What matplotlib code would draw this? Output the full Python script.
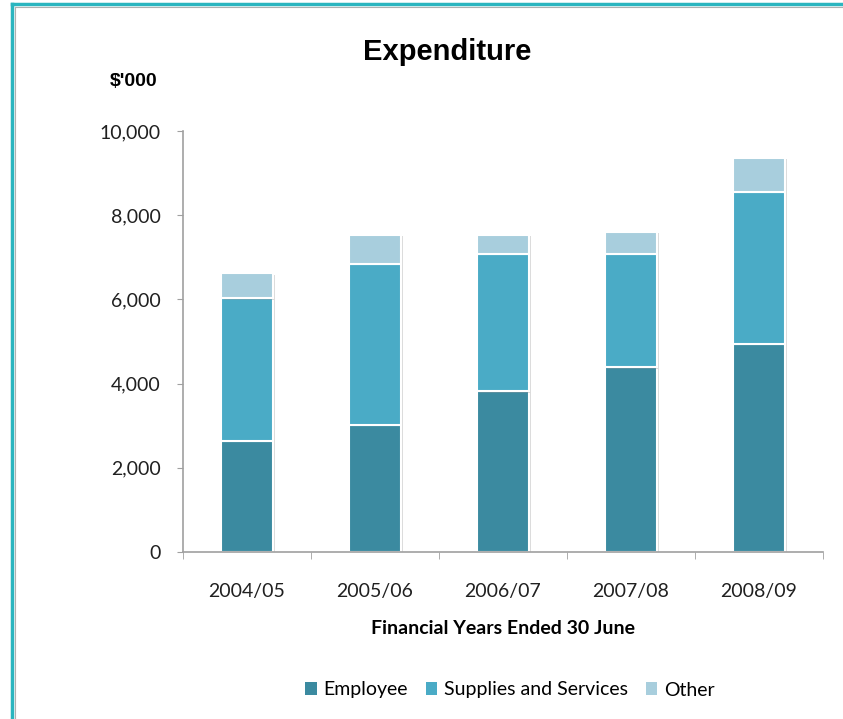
import matplotlib.pyplot as plt
import matplotlib.patheffects as pe
from matplotlib.lines import Line2D
from matplotlib.patches import Patch
from matplotlib.ticker import FuncFormatter

years = ["2004/05", "2005/06", "2006/07", "2007/08", "2008/09"]
employee = [2640, 3020, 3820, 4390, 4940]
supplies = [3390, 3820, 3260, 2690, 3610]
other = [590, 690, 450, 520, 810]

colors = {"Employee": "#3b8aa0", "Supplies and Services": "#4aabc6", "Other": "#a8cedd"}

fig = plt.figure(figsize=(8.43, 7.19), dpi=100)
ax = fig.add_axes([183 / 843, 1 - 552 / 719, 640 / 843, 421 / 719])

shadow = [pe.SimplePatchShadow(offset=(2, -1), shadow_rgbFace="#888888", alpha=0.3), pe.Normal()]
x = list(range(len(years)))
bottom = [0] * len(years)
for name, vals in [("Employee", employee), ("Supplies and Services", supplies), ("Other", other)]:
    bars = ax.bar(x, vals, width=0.4, bottom=bottom, color=colors[name],
                  edgecolor="white", linewidth=1.5)
    for b in bars:
        b.set_path_effects(shadow)
    bottom = [b0 + v for b0, v in zip(bottom, vals)]

ax.set_xlim(-0.5, len(years) - 0.5)
ax.set_ylim(0, 10000)
ax.set_yticks(range(0, 10001, 2000))
ax.yaxis.set_major_formatter(FuncFormatter(lambda v, p: f"{int(v):,}"))
ax.set_xticks(x)
ax.set_xticklabels(years)
ax.set_xticks([i - 0.5 for i in range(len(years) + 1)], minor=True)
ax.tick_params(axis="x", which="major", length=0, pad=22)
ax.tick_params(axis="x", which="minor", length=5, color="#a0a0a0")
ax.tick_params(axis="y", length=4, color="#a0a0a0", pad=12)
for lab in ax.get_xticklabels() + ax.get_yticklabels():
    lab.set_family("Lato")
    lab.set_fontsize(14)
    lab.set_color("#202020")

for s in ["top", "right"]:
    ax.spines[s].set_visible(False)
for s in ["left", "bottom"]:
    ax.spines[s].set_color("#a0a0a0")
    ax.spines[s].set_linewidth(1.2)

ax.set_xlabel("Financial Years Ended 30 June", family="Lato", fontweight="bold",
              fontsize=14, labelpad=15)

fig.text(0.531, 1 - 52 / 719, "Expenditure", family="Liberation Sans", fontweight="bold",
         fontsize=21, ha="center", va="center")
fig.text(110 / 843, 1 - 82 / 719, "$'000", family="Liberation Sans", fontweight="bold",
         fontsize=14, ha="left", va="center")

handles = [Patch(facecolor=c, edgecolor="none", label=n) for n, c in colors.items()]
fig.legend(handles=handles, loc="center", bbox_to_anchor=(510 / 843, 1 - 690 / 719), ncol=3,
           frameon=False, handlelength=0.6, handleheight=0.6, handletextpad=0.35,
           columnspacing=0.9, prop={"family": "Lato", "size": 14})

# frame lines along top and left edge
fig.add_artist(Line2D([12 / 843, 1], [1 - 4 / 719] * 2, color="#2bb5bf", lw=2.5))
fig.add_artist(Line2D([15 / 843, 1], [1 - 7 / 719] * 2, color="#b0b0b0", lw=0.8))
fig.add_artist(Line2D([12 / 843] * 2, [0, 1 - 4 / 719], color="#2bb5bf", lw=2.5))
fig.add_artist(Line2D([15 / 843] * 2, [0, 1 - 7 / 719], color="#b0b0b0", lw=0.8))

fig.savefig("out.png", dpi=100)
